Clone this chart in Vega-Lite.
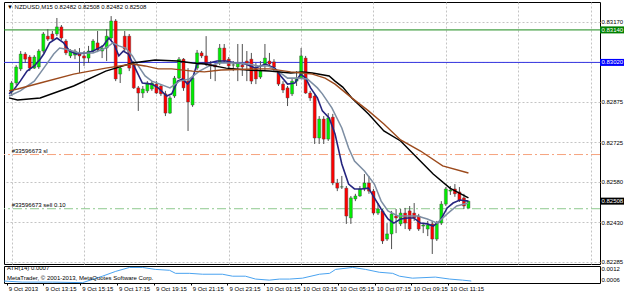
{
"$schema": "https://vega.github.io/schema/vega-lite/v6.json",
"padding": {"left": 1, "top": 1, "right": 0, "bottom": 0},
"spacing": 2,
"bounds": "flush",
"background": "#ffffff",
"config": {
 "font": "Liberation Sans",
 "view": {"stroke": "#000000", "strokeWidth": 1},
 "axis": {"labelFont": "Liberation Sans", "labelFontSize": 6, "labelColor": "#000000", "domain": false, "ticks": false, "gridColor": "#c4c4c4", "gridDash": [2, 2], "gridWidth": 1, "zindex": 0, "minExtent": 0},
 "title": {"font": "Liberation Sans", "fontSize": 6, "fontWeight": "normal", "color": "#000000", "anchor": "start", "frame": "group"}
},
"datasets": {
 "candles": [
{"i":0,"o":0.82911,"h":0.82951,"l":0.82896,"c":0.82944},
{"i":1,"o":0.82944,"h":0.83010,"l":0.82936,"c":0.83003},
{"i":2,"o":0.82996,"h":0.83062,"l":0.82988,"c":0.83051},
{"i":3,"o":0.83051,"h":0.83058,"l":0.83018,"c":0.83032},
{"i":4,"o":0.83040,"h":0.83047,"l":0.82988,"c":0.82999},
{"i":5,"o":0.82999,"h":0.83047,"l":0.82996,"c":0.83040},
{"i":6,"o":0.83003,"h":0.83069,"l":0.82996,"c":0.83062},
{"i":7,"o":0.83062,"h":0.83132,"l":0.83055,"c":0.83125},
{"i":8,"o":0.83117,"h":0.83143,"l":0.83099,"c":0.83106},
{"i":9,"o":0.83125,"h":0.83136,"l":0.83099,"c":0.83106},
{"i":10,"o":0.83125,"h":0.83184,"l":0.83117,"c":0.83151},
{"i":11,"o":0.83151,"h":0.83158,"l":0.83103,"c":0.83110},
{"i":12,"o":0.83099,"h":0.83106,"l":0.83047,"c":0.83055},
{"i":13,"o":0.83044,"h":0.83069,"l":0.83036,"c":0.83062},
{"i":14,"o":0.83047,"h":0.83069,"l":0.83032,"c":0.83062},
{"i":15,"o":0.83055,"h":0.83073,"l":0.82981,"c":0.83044},
{"i":16,"o":0.83044,"h":0.83062,"l":0.83007,"c":0.83036},
{"i":17,"o":0.83036,"h":0.83081,"l":0.83018,"c":0.83062},
{"i":18,"o":0.83062,"h":0.83106,"l":0.83055,"c":0.83099},
{"i":19,"o":0.83092,"h":0.83136,"l":0.83058,"c":0.83066},
{"i":20,"o":0.83062,"h":0.83084,"l":0.83036,"c":0.83073},
{"i":21,"o":0.83073,"h":0.83143,"l":0.83025,"c":0.83117},
{"i":22,"o":0.83110,"h":0.83191,"l":0.83099,"c":0.83173},
{"i":23,"o":0.83173,"h":0.83180,"l":0.82951,"c":0.82959},
{"i":24,"o":0.82977,"h":0.83007,"l":0.82944,"c":0.82999},
{"i":25,"o":0.83117,"h":0.83136,"l":0.83062,"c":0.83069},
{"i":26,"o":0.83117,"h":0.83125,"l":0.82988,"c":0.82999},
{"i":27,"o":0.83014,"h":0.83025,"l":0.82922,"c":0.82926},
{"i":28,"o":0.82926,"h":0.82933,"l":0.82841,"c":0.82907},
{"i":29,"o":0.82907,"h":0.82933,"l":0.82889,"c":0.82922},
{"i":30,"o":0.82915,"h":0.82951,"l":0.82907,"c":0.82944},
{"i":31,"o":0.82922,"h":0.82951,"l":0.82915,"c":0.82944},
{"i":32,"o":0.82940,"h":0.82951,"l":0.82904,"c":0.82907},
{"i":33,"o":0.82933,"h":0.82936,"l":0.82896,"c":0.82904},
{"i":34,"o":0.82904,"h":0.82915,"l":0.82822,"c":0.82833},
{"i":35,"o":0.82833,"h":0.82896,"l":0.82830,"c":0.82889},
{"i":36,"o":0.82896,"h":0.82970,"l":0.82889,"c":0.82962},
{"i":37,"o":0.82962,"h":0.83040,"l":0.82959,"c":0.83032},
{"i":38,"o":0.83032,"h":0.83036,"l":0.82915,"c":0.82926},
{"i":39,"o":0.82951,"h":0.82999,"l":0.82767,"c":0.82874},
{"i":40,"o":0.82863,"h":0.82970,"l":0.82856,"c":0.82962},
{"i":41,"o":0.82999,"h":0.83066,"l":0.82992,"c":0.83055},
{"i":42,"o":0.83055,"h":0.83062,"l":0.83036,"c":0.83044},
{"i":43,"o":0.83044,"h":0.83117,"l":0.83007,"c":0.83014},
{"i":44,"o":0.83014,"h":0.83025,"l":0.82959,"c":0.83007},
{"i":45,"o":0.83010,"h":0.83018,"l":0.82951,"c":0.83003},
{"i":46,"o":0.83018,"h":0.83088,"l":0.83010,"c":0.83073},
{"i":47,"o":0.83073,"h":0.83088,"l":0.83018,"c":0.83025},
{"i":48,"o":0.83032,"h":0.83040,"l":0.82999,"c":0.83007},
{"i":49,"o":0.83010,"h":0.83025,"l":0.82988,"c":0.83011},
{"i":50,"o":0.83003,"h":0.83088,"l":0.82951,"c":0.83018},
{"i":51,"o":0.83010,"h":0.83088,"l":0.82970,"c":0.83003},
{"i":52,"o":0.83025,"h":0.83062,"l":0.82951,"c":0.83018},
{"i":53,"o":0.83032,"h":0.83055,"l":0.82940,"c":0.82951},
{"i":54,"o":0.82996,"h":0.83018,"l":0.82940,"c":0.82959},
{"i":55,"o":0.82966,"h":0.83025,"l":0.82959,"c":0.82988},
{"i":56,"o":0.83014,"h":0.83088,"l":0.82988,"c":0.83036},
{"i":57,"o":0.83025,"h":0.83055,"l":0.83003,"c":0.83014},
{"i":58,"o":0.83022,"h":0.83032,"l":0.82988,"c":0.83003},
{"i":59,"o":0.82981,"h":0.82988,"l":0.82933,"c":0.82940},
{"i":60,"o":0.82940,"h":0.82951,"l":0.82907,"c":0.82918},
{"i":61,"o":0.82926,"h":0.82933,"l":0.82859,"c":0.82889},
{"i":62,"o":0.82904,"h":0.82962,"l":0.82896,"c":0.82951},
{"i":63,"o":0.82951,"h":0.82988,"l":0.82933,"c":0.82962},
{"i":64,"o":0.82962,"h":0.83073,"l":0.82959,"c":0.83044},
{"i":65,"o":0.83036,"h":0.83044,"l":0.82904,"c":0.82907},
{"i":66,"o":0.82907,"h":0.82915,"l":0.82878,"c":0.82889},
{"i":67,"o":0.82896,"h":0.82904,"l":0.82719,"c":0.82741},
{"i":68,"o":0.82741,"h":0.82822,"l":0.82719,"c":0.82811},
{"i":69,"o":0.82811,"h":0.82822,"l":0.82719,"c":0.82737},
{"i":70,"o":0.82737,"h":0.82833,"l":0.82730,"c":0.82815},
{"i":71,"o":0.82818,"h":0.82830,"l":0.82567,"c":0.82575},
{"i":72,"o":0.82575,"h":0.82590,"l":0.82545,"c":0.82556},
{"i":73,"o":0.82560,"h":0.82601,"l":0.82553,"c":0.82561},
{"i":74,"o":0.82556,"h":0.82564,"l":0.82424,"c":0.82453},
{"i":75,"o":0.82446,"h":0.82527,"l":0.82424,"c":0.82520},
{"i":76,"o":0.82516,"h":0.82535,"l":0.82508,"c":0.82527},
{"i":77,"o":0.82527,"h":0.82564,"l":0.82524,"c":0.82553},
{"i":78,"o":0.82553,"h":0.82608,"l":0.82545,"c":0.82575},
{"i":79,"o":0.82575,"h":0.82601,"l":0.82535,"c":0.82545},
{"i":80,"o":0.82545,"h":0.82553,"l":0.82457,"c":0.82464},
{"i":81,"o":0.82464,"h":0.82501,"l":0.82457,"c":0.82479},
{"i":82,"o":0.82472,"h":0.82479,"l":0.82350,"c":0.82361},
{"i":83,"o":0.82368,"h":0.82427,"l":0.82361,"c":0.82387},
{"i":84,"o":0.82387,"h":0.82472,"l":0.82331,"c":0.82461},
{"i":85,"o":0.82453,"h":0.82479,"l":0.82390,"c":0.82446},
{"i":86,"o":0.82424,"h":0.82479,"l":0.82416,"c":0.82464},
{"i":87,"o":0.82464,"h":0.82483,"l":0.82405,"c":0.82427},
{"i":88,"o":0.82472,"h":0.82490,"l":0.82398,"c":0.82405},
{"i":89,"o":0.82464,"h":0.82501,"l":0.82435,"c":0.82446},
{"i":90,"o":0.82453,"h":0.82461,"l":0.82398,"c":0.82405},
{"i":91,"o":0.82416,"h":0.82427,"l":0.82390,"c":0.82420},
{"i":92,"o":0.82405,"h":0.82435,"l":0.82379,"c":0.82420},
{"i":93,"o":0.82424,"h":0.82435,"l":0.82313,"c":0.82368},
{"i":94,"o":0.82368,"h":0.82435,"l":0.82361,"c":0.82427},
{"i":95,"o":0.82427,"h":0.82508,"l":0.82420,"c":0.82497},
{"i":96,"o":0.82497,"h":0.82560,"l":0.82490,"c":0.82553},
{"i":97,"o":0.82545,"h":0.82564,"l":0.82531,"c":0.82549},
{"i":98,"o":0.82553,"h":0.82571,"l":0.82524,"c":0.82535},
{"i":99,"o":0.82542,"h":0.82560,"l":0.82505,"c":0.82512},
{"i":100,"o":0.82520,"h":0.82535,"l":0.82479,"c":0.82490},
{"i":101,"o":0.82482,"h":0.82508,"l":0.82482,"c":0.82508}
 ],
 "ma": [
{"s":"fast","i":-0.58,"p":0.82904},{"s":"fast","i":0.6,"p":0.82922},{"s":"fast","i":1.9,"p":0.82951},{"s":"fast","i":3.4,"p":0.82988},{"s":"fast","i":5,"p":0.83007},{"s":"fast","i":6.3,"p":0.83032},{"s":"fast","i":7.1,"p":0.83051},{"s":"fast","i":8.4,"p":0.83092},{"s":"fast","i":10,"p":0.83110},{"s":"fast","i":11.5,"p":0.83092},{"s":"fast","i":12.8,"p":0.83062},{"s":"fast","i":14.3,"p":0.83051},{"s":"fast","i":16.5,"p":0.83055},{"s":"fast","i":18,"p":0.83062},{"s":"fast","i":20.2,"p":0.83081},{"s":"fast","i":21.5,"p":0.83110},{"s":"fast","i":22.6,"p":0.83088},{"s":"fast","i":23.7,"p":0.83044},{"s":"fast","i":24.7,"p":0.83062},{"s":"fast","i":25.8,"p":0.83051},{"s":"fast","i":27.3,"p":0.82999},{"s":"fast","i":28.9,"p":0.82944},{"s":"fast","i":31,"p":0.82940},{"s":"fast","i":32.4,"p":0.82926},{"s":"fast","i":34.3,"p":0.82896},{"s":"fast","i":35.4,"p":0.82904},{"s":"fast","i":36.7,"p":0.82951},{"s":"fast","i":37.8,"p":0.82959},{"s":"fast","i":38.9,"p":0.82940},{"s":"fast","i":40,"p":0.82962},{"s":"fast","i":41,"p":0.83014},{"s":"fast","i":42.1,"p":0.83018},{"s":"fast","i":43.7,"p":0.83018},{"s":"fast","i":45.4,"p":0.83025},{"s":"fast","i":47.4,"p":0.83025},{"s":"fast","i":49.5,"p":0.83018},{"s":"fast","i":51.7,"p":0.83014},{"s":"fast","i":53.9,"p":0.82999},{"s":"fast","i":56.1,"p":0.83014},{"s":"fast","i":58.2,"p":0.82999},{"s":"fast","i":59.5,"p":0.82970},{"s":"fast","i":61,"p":0.82940},{"s":"fast","i":62.6,"p":0.82944},{"s":"fast","i":63.9,"p":0.82977},{"s":"fast","i":65,"p":0.82962},{"s":"fast","i":66.1,"p":0.82926},{"s":"fast","i":67.6,"p":0.82889},{"s":"fast","i":68.7,"p":0.82841},{"s":"fast","i":70.2,"p":0.82815},{"s":"fast","i":71.5,"p":0.82756},{"s":"fast","i":73,"p":0.82645},{"s":"fast","i":74.5,"p":0.82571},{"s":"fast","i":75.8,"p":0.82553},{"s":"fast","i":77.3,"p":0.82553},{"s":"fast","i":78.9,"p":0.82556},{"s":"fast","i":80.2,"p":0.82520},{"s":"fast","i":81.7,"p":0.82479},{"s":"fast","i":83.2,"p":0.82442},{"s":"fast","i":84.5,"p":0.82427},{"s":"fast","i":86,"p":0.82442},{"s":"fast","i":87.6,"p":0.82446},{"s":"fast","i":88.9,"p":0.82446},{"s":"fast","i":90.4,"p":0.82427},{"s":"fast","i":91.9,"p":0.82424},{"s":"fast","i":93.2,"p":0.82416},{"s":"fast","i":94.7,"p":0.82435},{"s":"fast","i":96.3,"p":0.82483},{"s":"fast","i":97.6,"p":0.82501},{"s":"fast","i":99.1,"p":0.82512},{"s":"fast","i":101,"p":0.82508},
{"s":"mid","i":-0.58,"p":0.82896},{"s":"mid","i":1.9,"p":0.82915},{"s":"mid","i":5,"p":0.82951},{"s":"mid","i":7.1,"p":0.82999},{"s":"mid","i":9.3,"p":0.83051},{"s":"mid","i":10.6,"p":0.83073},{"s":"mid","i":12.1,"p":0.83069},{"s":"mid","i":15,"p":0.83055},{"s":"mid","i":18,"p":0.83055},{"s":"mid","i":20.8,"p":0.83073},{"s":"mid","i":22.4,"p":0.83092},{"s":"mid","i":23.7,"p":0.83081},{"s":"mid","i":25.2,"p":0.83073},{"s":"mid","i":26.7,"p":0.83044},{"s":"mid","i":28,"p":0.83007},{"s":"mid","i":29.5,"p":0.82970},{"s":"mid","i":31,"p":0.82951},{"s":"mid","i":32.8,"p":0.82940},{"s":"mid","i":35,"p":0.82926},{"s":"mid","i":37.1,"p":0.82951},{"s":"mid","i":39.3,"p":0.82959},{"s":"mid","i":41.5,"p":0.82988},{"s":"mid","i":43.7,"p":0.83007},{"s":"mid","i":45.8,"p":0.83018},{"s":"mid","i":50.2,"p":0.83018},{"s":"mid","i":52.3,"p":0.83014},{"s":"mid","i":54.5,"p":0.83007},{"s":"mid","i":56.7,"p":0.83007},{"s":"mid","i":58.9,"p":0.82988},{"s":"mid","i":61,"p":0.82962},{"s":"mid","i":63.2,"p":0.82962},{"s":"mid","i":65.4,"p":0.82959},{"s":"mid","i":67.6,"p":0.82926},{"s":"mid","i":68.7,"p":0.82904},{"s":"mid","i":70.8,"p":0.82852},{"s":"mid","i":73,"p":0.82778},{"s":"mid","i":74.5,"p":0.82704},{"s":"mid","i":75.8,"p":0.82656},{"s":"mid","i":78,"p":0.82619},{"s":"mid","i":80.2,"p":0.82571},{"s":"mid","i":81.7,"p":0.82508},{"s":"mid","i":83.2,"p":0.82472},{"s":"mid","i":85.4,"p":0.82453},{"s":"mid","i":87.6,"p":0.82453},{"s":"mid","i":89.7,"p":0.82453},{"s":"mid","i":91.9,"p":0.82442},{"s":"mid","i":94.1,"p":0.82427},{"s":"mid","i":96.3,"p":0.82461},{"s":"mid","i":98.4,"p":0.82490},{"s":"mid","i":101,"p":0.82501},
{"s":"slow","i":-0.58,"p":0.82889},{"s":"slow","i":1.3,"p":0.82881},{"s":"slow","i":6.3,"p":0.82889},{"s":"slow","i":13.7,"p":0.82933},{"s":"slow","i":20.8,"p":0.82988},{"s":"slow","i":23,"p":0.82999},{"s":"slow","i":26.7,"p":0.83018},{"s":"slow","i":31.7,"p":0.83029},{"s":"slow","i":36.7,"p":0.83025},{"s":"slow","i":40,"p":0.83018},{"s":"slow","i":42.6,"p":0.83014},{"s":"slow","i":47.4,"p":0.82999},{"s":"slow","i":52.1,"p":0.82992},{"s":"slow","i":57,"p":0.82988},{"s":"slow","i":61.7,"p":0.82981},{"s":"slow","i":64.3,"p":0.82985},{"s":"slow","i":66.5,"p":0.82981},{"s":"slow","i":70.2,"p":0.82970},{"s":"slow","i":71.5,"p":0.82951},{"s":"slow","i":73.2,"p":0.82929},{"s":"slow","i":75.2,"p":0.82889},{"s":"slow","i":78.9,"p":0.82830},{"s":"slow","i":82.3,"p":0.82767},{"s":"slow","i":86,"p":0.82730},{"s":"slow","i":89.7,"p":0.82667},{"s":"slow","i":93.2,"p":0.82608},{"s":"slow","i":96.9,"p":0.82556},{"s":"slow","i":101,"p":0.82520},
{"s":"slower","i":-0.58,"p":0.82915},{"s":"slower","i":1.3,"p":0.82922},{"s":"slower","i":6.3,"p":0.82944},{"s":"slower","i":13.7,"p":0.82977},{"s":"slower","i":20.8,"p":0.82999},{"s":"slower","i":26.7,"p":0.83014},{"s":"slower","i":29.5,"p":0.83007},{"s":"slower","i":32.4,"p":0.82996},{"s":"slower","i":35.4,"p":0.82996},{"s":"slower","i":40,"p":0.82988},{"s":"slower","i":42.6,"p":0.82985},{"s":"slower","i":46.3,"p":0.82992},{"s":"slower","i":54.5,"p":0.82996},{"s":"slower","i":57.1,"p":0.82996},{"s":"slower","i":61.7,"p":0.82985},{"s":"slower","i":64.3,"p":0.82981},{"s":"slower","i":66.5,"p":0.82977},{"s":"slower","i":69.3,"p":0.82962},{"s":"slower","i":71.5,"p":0.82940},{"s":"slower","i":75.2,"p":0.82889},{"s":"slower","i":78.9,"p":0.82841},{"s":"slower","i":82.3,"p":0.82793},{"s":"slower","i":86,"p":0.82734},{"s":"slower","i":90.4,"p":0.82693},{"s":"slower","i":95.3,"p":0.82638},{"s":"slower","i":101,"p":0.82612}
 ],
 "levels": [
  {"kind":"tp","p":0.8314},{"kind":"line","p":0.8302},{"kind":"sl","p":0.8268},{"kind":"sell","p":0.8248}
 ],
 "tags": [
  {"kind":"tp","p":0.8314,"label":"0.83140"},{"kind":"line","p":0.8302,"label":"0.83020"},{"kind":"bid","p":0.82508,"label":"0.82508"}
 ],
 "notes": [
  {"p":0.8268,"label":"#33596673 sl"},{"p":0.8248,"label":"#33596673 sell 0.10"}
 ],
 "atr": [
{"i":-0.58,"v":0.00052},{"i":3.4,"v":0.00046},{"i":10,"v":0.00046},{"i":16.5,"v":0.00043},{"i":20.8,"v":0.00079},{"i":23.7,"v":0.00106},{"i":26.7,"v":0.00128},{"i":29.5,"v":0.00128},{"i":32.3,"v":0.00117},{"i":35.4,"v":0.00112},{"i":36.7,"v":0.00095},{"i":39.7,"v":0.00095},{"i":42.6,"v":0.00090},{"i":46.9,"v":0.00090},{"i":49.1,"v":0.00079},{"i":51.9,"v":0.00079},{"i":54.1,"v":0.00063},{"i":57.1,"v":0.00057},{"i":59.3,"v":0.00063},{"i":61.5,"v":0.00063},{"i":64.3,"v":0.00068},{"i":68,"v":0.00090},{"i":70.2,"v":0.00095},{"i":71.5,"v":0.00117},{"i":75.2,"v":0.00128},{"i":78,"v":0.00117},{"i":81,"v":0.00101},{"i":83.9,"v":0.00095},{"i":85.4,"v":0.00079},{"i":88.2,"v":0.00068},{"i":93.2,"v":0.00074},{"i":96.3,"v":0.00063},{"i":99.1,"v":0.00057},{"i":101,"v":0.00052}
 ]
},
"vconcat": [
 {
  "width": 596,
  "height": 262,
  "title": {"text": "▼ NZDUSD,M15   0.82482 0.82508 0.82482 0.82508", "offset": -8, "dx": 3},
  "resolve": {"scale": {"color": "independent", "strokeDash": "independent", "strokeWidth": "independent"}},
  "layer": [
   {
    "data": {"name": "levels"},
    "mark": {"type": "rule"},
    "encoding": {
     "y": {"field": "p", "type": "quantitative", "title": null,
       "scale": {"domain": [0.82276, 0.83243], "nice": false, "zero": false},
       "axis": {"orient": "right", "values": [0.82285, 0.82355, 0.8243, 0.82505, 0.8258, 0.8265, 0.82725, 0.828, 0.82875, 0.82945, 0.8302, 0.83095, 0.8317], "format": ".5f", "grid": true, "labelPadding": 1}},
     "color": {"field": "kind", "type": "nominal", "legend": null, "scale": {"domain": ["tp", "line", "sl", "sell"], "range": ["#1a8a1a", "#3434e0", "#f6a47e", "#8fca8f"]}},
     "strokeDash": {"field": "kind", "type": "nominal", "legend": null, "scale": {"domain": ["tp", "line", "sl", "sell"], "range": [[1, 0], [1, 0], [9, 3, 2, 3], [9, 3, 2, 3]]}},
     "strokeWidth": {"field": "kind", "type": "ordinal", "legend": null, "scale": {"domain": ["tp", "line", "sl", "sell"], "range": [1, 1, 1.6, 1.6]}}
    }
   },
   {
    "data": {"name": "candles"},
    "mark": {"type": "rule", "color": "#505050", "strokeWidth": 1},
    "encoding": {
     "x": {"field": "i", "type": "quantitative", "title": null,
       "scale": {"domain": [-0.587, 128.98], "nice": false, "zero": false},
       "axis": {"orient": "bottom", "values": [0,4,8,12,16,20,24,28,32,36,40,44,48,52,56,60,64,68,72,76,80,84,88,92,96,100,104,108,112,116,120,124,128], "labels": false, "grid": true, "labelPadding": 0, "tickSize": 0, "maxExtent": 0}},
     "y": {"field": "l", "type": "quantitative", "title": null},
     "y2": {"field": "h"}
    }
   },
   {
    "data": {"name": "candles"},
    "mark": {"type": "bar", "size": 3, "stroke": "#404040", "strokeWidth": 0.4},
    "encoding": {
     "x": {"field": "i", "type": "quantitative", "title": null},
     "y": {"field": "o", "type": "quantitative", "title": null},
     "y2": {"field": "c"},
     "color": {"condition": {"test": "datum.c >= datum.o", "value": "#00ee00"}, "value": "#ff0000"}
    }
   },
   {
    "data": {"name": "ma"},
    "mark": {"type": "line", "interpolate": "linear"},
    "encoding": {
     "x": {"field": "i", "type": "quantitative", "title": null},
     "y": {"field": "p", "type": "quantitative", "title": null},
     "color": {"field": "s", "type": "nominal", "legend": null, "scale": {"domain": ["slower", "slow", "mid", "fast"], "range": ["#9c4a1c", "#000000", "#7d8ea3", "#25257f"]}},
     "strokeWidth": {"field": "s", "type": "ordinal", "legend": null, "scale": {"domain": ["slower", "slow", "mid", "fast"], "range": [1.4, 1.6, 1.2, 1.2]}}
    }
   },
   {
    "data": {"name": "notes"},
    "mark": {"type": "text", "align": "left", "baseline": "bottom", "fontSize": 6, "dy": -1, "color": "#000000"},
    "encoding": {
     "x": {"datum": 0, "type": "quantitative"},
     "y": {"field": "p", "type": "quantitative", "title": null},
     "text": {"field": "label"}
    }
   },
   {
    "data": {"name": "tags"},
    "mark": {"type": "rule", "strokeWidth": 7, "x2Offset": 24},
    "encoding": {
     "x": {"value": "width"},
     "x2": {"value": "width"},
     "y": {"field": "p", "type": "quantitative", "title": null},
     "color": {"field": "kind", "type": "nominal", "legend": null, "scale": {"domain": ["tp", "line", "bid"], "range": ["#008000", "#0000ff", "#000000"]}}
    }
   },
   {
    "data": {"name": "tags"},
    "mark": {"type": "text", "align": "left", "baseline": "middle", "fontSize": 6, "dx": 1.5, "color": "#ffffff"},
    "encoding": {
     "x": {"value": "width"},
     "y": {"field": "p", "type": "quantitative", "title": null},
     "text": {"field": "label"}
    }
   }
  ]
 },
 {
  "width": 596,
  "height": 17,
  "title": {"text": ["ATR(14) 0.0007", "MetaTrader, © 2001-2013, MetaQuotes Software Corp."], "offset": -16, "dx": 3, "lineHeight": 10},
  "data": {"name": "atr"},
  "mark": {"type": "line", "color": "#4aa3f0", "strokeWidth": 1},
  "encoding": {
   "x": {"field": "i", "type": "quantitative", "title": null,
     "scale": {"domain": [-0.587, 128.98], "nice": false, "zero": false},
     "axis": {"orient": "bottom", "values": [0,8,16,24,32,40,48,56,64,72,80,88,96], "labelExpr": "datum.value == 0 ? '9 Oct 2013' : timeFormat(datetime(2013, 9, 9, 11, 15 + datum.value * 15), '%-d %b %H:%M')", "labelAlign": "left", "labelOffset": 1.5, "labelFlush": false, "labelOverlap": false, "ticks": true, "tickSize": 2, "tickColor": "#000000", "labelPadding": 0, "labelBaseline": "top", "grid": false}},
   "y": {"field": "v", "type": "quantitative", "title": null,
     "scale": {"domain": [0.00041, 0.00136], "nice": false, "zero": false},
     "axis": {"orient": "right", "values": [0.0006, 0.0012], "format": ".4f", "grid": false, "labelPadding": 1}}
  }
 }
]
}
